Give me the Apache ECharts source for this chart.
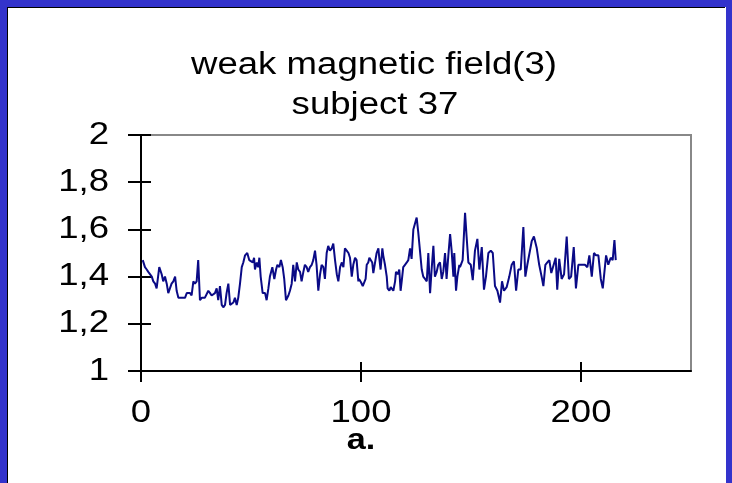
<!DOCTYPE html>
<html>
<head>
<meta charset="utf-8">
<script src="https://cdn.jsdelivr.net/npm/echarts@6/dist/echarts.min.js"></script>
<style>
html,body{margin:0;padding:0;background:#fff;}
#chart{width:732px;height:483px;}
</style>
</head>
<body>
<div id="chart"></div>
<script>
const titleLines = ['weak magnetic field(3)', 'subject 37'];
const panelLabel = 'a.';
const xTicks = [0, 100, 200];
const yTicks = [1, 1.2, 1.4, 1.6, 1.8, 2];

const xs = [
0.8,1.8,2.6,3.3,4.1,4.9,5.6,6.4,7.1,8.3,9.4,10.1,10.9,11.7,12.4,13.9,14.7,15.5,16.2,17.0,
18.5,20.0,20.8,22.3,23.0,23.8,24.5,25.3,26.0,26.8,27.6,29.0,30.6,31.4,32.1,33.6,34.4,35.1,35.9,36.7,
37.4,38.2,38.9,39.7,40.5,42.0,42.7,43.5,44.2,45.0,45.8,46.5,47.3,
48.3,49.2,50.0,50.8,51.4,51.8,52.6,53.3,53.8,54.4,55.3,56.4,57.1,57.9,58.6,59.7,60.6,61.4,62.0,62.9,
63.6,64.4,65.1,65.9,67.0,67.7,68.5,69.2,70.0,70.8,71.5,72.3,73.0,73.8,74.5,75.3,76.0,76.8,77.6,78.3,
79.1,79.8,80.6,81.4,82.1,82.9,83.6,84.4,85.1,85.9,86.7,87.4,88.2,89.0,89.7,90.5,91.3,92.0,92.7,93.5,
94.3,95.0,95.8,96.5,97.3,98.0,98.8,
99.1,100.0,100.8,101.4,102.1,102.6,103.3,103.8,104.5,105.1,105.6,106.4,107.1,107.9,108.3,108.9,109.7,110.1,110.9,111.7,
112.1,112.9,113.5,114.2,114.7,115.5,115.9,116.7,117.4,118.0,118.5,119.2,120.0,120.8,121.5,122.3,123.0,123.8,124.5,125.3,
126.0,126.8,127.6,128.3,129.1,129.9,130.6,131.4,132.1,132.9,133.6,134.4,135.1,135.9,136.7,137.4,138.2,138.9,139.7,140.5,
141.2,142.0,142.4,143.2,143.8,144.7,
145.0,146.2,147.3,148.0,148.8,149.9,150.8,151.8,152.9,153.8,154.9,155.9,156.8,157.9,159.0,159.9,160.9,162.0,163.2,164.1,
165.0,166.2,167.4,168.5,169.5,170.5,171.5,172.6,173.8,174.7,175.6,176.5,177.6,178.6,179.9,181.0,182.1,182.9,183.8,184.7,
185.6,186.5,187.4,188.5,189.2,190.1,191.2,192.3,193.5,194.5,195.5,196.7,197.7,198.8,199.9,200.8,201.8,202.9,203.8,204.9,
205.9,206.8,207.9,209.0,209.9,210.5,211.4,212.4,213.5,214.4,215.2,215.8
];

const ys = [
1.47,1.44,1.43,1.42,1.42,1.40,1.38,1.37,1.35,1.44,1.41,1.38,1.40,1.37,1.33,1.37,1.38,1.40,1.34,1.31,
1.31,1.31,1.33,1.33,1.32,1.38,1.37,1.38,1.47,1.30,1.31,1.31,1.34,1.33,1.32,1.33,1.35,1.30,1.36,1.28,
1.27,1.28,1.33,1.37,1.28,1.29,1.31,1.28,1.31,1.37,1.44,1.46,1.49,
1.50,1.47,1.47,1.46,1.48,1.43,1.46,1.44,1.48,1.40,1.33,1.33,1.30,1.35,1.40,1.44,1.39,1.43,1.45,1.44,
1.47,1.44,1.39,1.30,1.32,1.34,1.37,1.45,1.38,1.46,1.43,1.42,1.38,1.42,1.45,1.44,1.42,1.44,1.45,1.47,
1.51,1.45,1.34,1.41,1.45,1.44,1.39,1.50,1.53,1.51,1.52,1.54,1.47,1.41,1.38,1.44,1.46,1.44,1.52,1.51,
1.50,1.48,1.40,1.45,1.48,1.47,1.38,
1.39,1.376,1.36,1.355,1.39,1.45,1.46,1.48,1.48,1.46,1.415,1.46,1.50,1.52,1.48,1.43,1.52,1.49,1.45,1.40,
1.35,1.34,1.355,1.355,1.34,1.38,1.42,1.41,1.43,1.34,1.38,1.44,1.45,1.46,1.47,1.52,1.475,1.60,1.60,1.65,
1.59,1.51,1.43,1.40,1.39,1.38,1.50,1.33,1.43,1.53,1.40,1.42,1.45,1.46,1.39,1.42,1.50,1.39,1.49,1.58,
1.51,1.40,1.50,1.34,1.40,1.45,
1.44,1.47,1.67,1.57,1.46,1.45,1.385,1.51,1.56,1.43,1.525,1.345,1.40,1.50,1.51,1.50,1.36,1.34,1.29,1.38,
1.34,1.355,1.40,1.45,1.465,1.34,1.43,1.43,1.61,1.40,1.45,1.45,1.55,1.57,1.52,1.45,1.40,1.36,1.45,1.46,
1.47,1.415,1.42,1.48,1.345,1.475,1.39,1.41,1.57,1.39,1.40,1.525,1.35,1.45,1.45,1.45,1.45,1.44,1.49,1.40,
1.50,1.49,1.49,1.39,1.35,1.345,1.49,1.45,1.48,1.47,1.555,1.47
];

const seriesData = xs.map((x, i) => [x, ys[i]]);
const fmtY = v => String(Math.round(v * 10) / 10).replace('.', ',');
const FONT = '"Liberation Sans", Arial, sans-serif';
const STRETCH = 1.18;

const chart = echarts.init(document.getElementById('chart'), null, {renderer: 'canvas'});
const commonX = {type: 'value', min: 0, max: 250, interval: 100, splitLine: {show: false}};
const commonY = {type: 'value', min: 1, max: 2, interval: 0.2, splitLine: {show: false}};

const frame = [
  {type: 'rect', left: 0, top: 0, shape: {width: 7, height: 483}, style: {fill: '#3333cc'}, silent: true},
  {type: 'rect', left: 7, top: 7, shape: {width: 1, height: 476}, style: {fill: '#000'}, silent: true},
  {type: 'rect', left: 0, top: 0, shape: {width: 732, height: 7}, style: {fill: '#3333cc'}, silent: true},
  {type: 'rect', left: 7, top: 7, shape: {width: 718, height: 1}, style: {fill: '#000'}, silent: true},
  {type: 'rect', right: 0, top: 0, shape: {width: 6, height: 483}, style: {fill: '#3333cc'}, silent: true}
];

chart.setOption({
  animation: false,
  backgroundColor: '#ffffff',
  grid: {left: 141, right: 41, top: 135, bottom: 112, show: true, borderColor: '#888', borderWidth: 2, backgroundColor: 'transparent'},
  xAxis: [
    Object.assign({}, commonX, {
      axisLine: {lineStyle: {color: '#000', width: 2}},
      axisTick: {show: true, length: 11, lineStyle: {color: '#000', width: 2}, customValues: xTicks},
      axisLabel: {show: false}
    }),
    Object.assign({}, commonX, {
      position: 'bottom',
      axisLine: {show: false},
      axisTick: {show: true, inside: true, length: 9, lineStyle: {color: '#000', width: 2}, customValues: xTicks},
      axisLabel: {show: false}
    })
  ],
  yAxis: [
    Object.assign({}, commonY, {
      axisLine: {lineStyle: {color: '#000', width: 2}},
      axisTick: {show: true, length: 13, lineStyle: {color: '#000', width: 2}},
      axisLabel: {show: false}
    }),
    Object.assign({}, commonY, {
      position: 'left',
      axisLine: {show: false},
      axisTick: {show: true, inside: true, length: 10, lineStyle: {color: '#000', width: 2}},
      axisLabel: {show: false}
    })
  ],
  series: [{
    type: 'line',
    xAxisIndex: 0,
    yAxisIndex: 0,
    data: seriesData,
    showSymbol: false,
    symbol: 'none',
    lineStyle: {color: '#0a0a86', width: 2},
    z: 3
  }],
  graphic: frame
});

// Text drawn through the axes' own scales (stretched horizontally like the source slide)
const texts = [];
const addText = (t, x, y, size, align, bold) => texts.push({
  type: 'text', x: x, y: y, scaleX: STRETCH, silent: true, z: 10,
  style: {text: t, font: (bold ? 'bold ' : '') + size + 'px ' + FONT, fill: '#000', align: align, verticalAlign: 'middle'}
});
addText(titleLines[0], 374, 65, 31, 'center', false);
addText(titleLines[1], 375, 105, 31, 'center', false);
xTicks.forEach(v => {
  addText(String(v), chart.convertToPixel({xAxisIndex: 0}, v), 413, 31, 'center', false);
});
yTicks.forEach(v => {
  addText(fmtY(v), 109, chart.convertToPixel({yAxisIndex: 0}, v), 31, 'right', false);
});
addText(panelLabel, chart.convertToPixel({xAxisIndex: 0}, 100), 441, 29, 'center', true);

chart.setOption({graphic: frame.concat(texts)}, {replaceMerge: ['graphic']});
</script>
</body>
</html>
